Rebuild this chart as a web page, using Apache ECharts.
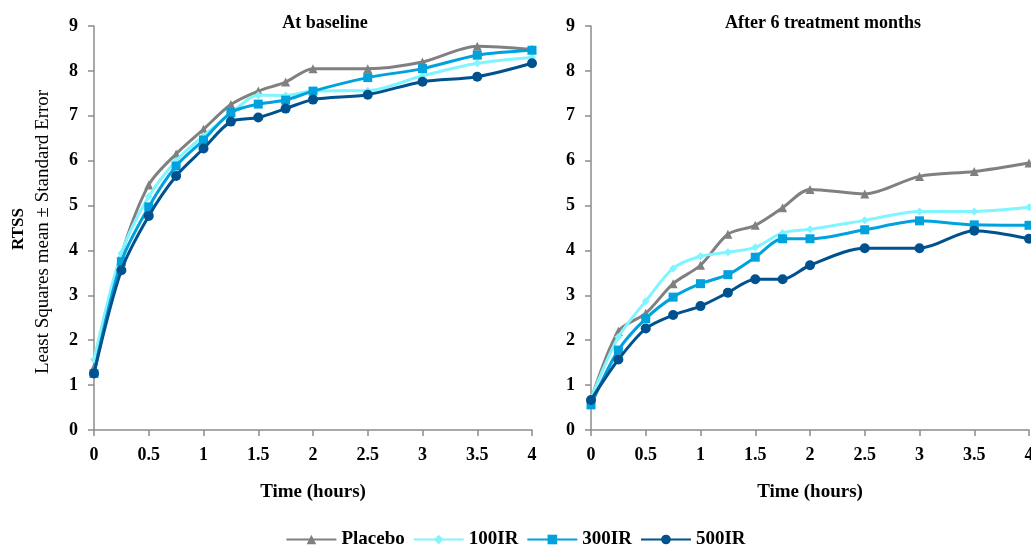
<!DOCTYPE html>
<html>
<head>
<meta charset="utf-8">
<script src="https://cdn.jsdelivr.net/npm/echarts@6/dist/echarts.min.js"></script>
<style>html,body{margin:0;padding:0;background:#fff}#c{width:1031px;height:550px}</style>
</head>
<body>
<div id="c"></div>
<script>
var times = [0, 0.25, 0.5, 0.75, 1, 1.25, 1.5, 1.75, 2, 2.5, 3, 3.5, 4];
var seriesNames = ['Placebo', '100IR', '300IR', '500IR'];
var panelTitles = ['At baseline', 'After 6 treatment months'];

var basePlacebo = [1.4, 3.9, 5.46, 6.15, 6.7, 7.25, 7.55, 7.75, 8.05, 8.05, 8.2, 8.55, 8.48];
var base100IR   = [1.57, 3.94, 5.2, 6.0, 6.55, 7.05, 7.46, 7.45, 7.55, 7.56, 7.89, 8.17, 8.3];
var base300IR   = [1.26, 3.75, 4.97, 5.88, 6.46, 7.07, 7.26, 7.35, 7.55, 7.85, 8.05, 8.35, 8.46];
var base500IR   = [1.26, 3.56, 4.77, 5.66, 6.27, 6.87, 6.96, 7.16, 7.36, 7.47, 7.76, 7.87, 8.17];

var m6Placebo = [0.67, 2.2, 2.6, 3.26, 3.67, 4.36, 4.56, 4.95, 5.36, 5.26, 5.65, 5.76, 5.95];
var m6100IR   = [0.7, 2.07, 2.87, 3.6, 3.87, 3.96, 4.07, 4.39, 4.47, 4.67, 4.87, 4.87, 4.96];
var m6300IR   = [0.56, 1.78, 2.48, 2.96, 3.26, 3.46, 3.85, 4.26, 4.26, 4.46, 4.66, 4.57, 4.56];
var m6500IR   = [0.67, 1.57, 2.26, 2.56, 2.76, 3.06, 3.36, 3.36, 3.67, 4.05, 4.05, 4.44, 4.26];

var colors = ['#808080', '#80F4FF', '#00A2DE', '#00528F'];
var symbols = ['triangle', 'diamond', 'rect', 'circle'];
var symbolSizes = [9, 8, 9, 10];

function pairs(vals) { return times.map(function (t, i) { return [t, vals[i]]; }); }

var panels = [
  [basePlacebo, base100IR, base300IR, base500IR],
  [m6Placebo, m6100IR, m6300IR, m6500IR]
];

var font = '"Liberation Serif", "Times New Roman", serif';
var axisColor = '#8c8c8c';

var grids = [
  { left: 94, top: 26, width: 438, height: 404, outerBoundsMode: 'none', containLabel: false },
  { left: 591, top: 26, width: 438, height: 404, outerBoundsMode: 'none', containLabel: false }
];

var xAxes = [0, 1].map(function (i) {
  return {
    type: 'value', gridIndex: i, min: 0, max: 4, interval: 0.5,
    name: 'Time (hours)', nameLocation: 'middle', nameGap: 53,
    nameTextStyle: { fontFamily: font, fontWeight: 'bold', fontSize: 19, color: '#000' },
    axisLine: { lineStyle: { color: axisColor, width: 1.5 } },
    axisTick: { show: true, length: 6, lineStyle: { color: axisColor, width: 1.5 } },
    axisLabel: { fontFamily: font, fontWeight: 'bold', fontSize: 18, color: '#000', margin: 16, showMaxLabel: true },
    splitLine: { show: false }
  };
});

var yAxes = [0, 1].map(function (i) {
  return {
    type: 'value', gridIndex: i, min: 0, max: 9, interval: 1,
    axisLine: { show: true, lineStyle: { color: axisColor, width: 1.5 } },
    axisTick: { show: true, length: 6, lineStyle: { color: axisColor, width: 1.5 } },
    axisLabel: { fontFamily: font, fontWeight: 'bold', fontSize: 18, color: '#000', margin: 16 },
    splitLine: { show: false }
  };
});

var series = [];
panels.forEach(function (panel, p) {
  panel.forEach(function (vals, s) {
    series.push({
      name: seriesNames[s], type: 'line', xAxisIndex: p, yAxisIndex: p,
      data: pairs(vals), smooth: 0.3,
      symbol: symbols[s], symbolSize: symbolSizes[s],
      lineStyle: { color: colors[s], width: 3 },
      itemStyle: { color: colors[s] },
      z: 2 + s
    });
  });
});

var chart = echarts.init(document.getElementById('c'));
chart.setOption({
  animation: false,
  backgroundColor: '#fff',
  grid: grids,
  xAxis: xAxes,
  yAxis: yAxes,
  series: series,
  title: [
    { text: panelTitles[0], left: 320, top: 9, textAlign: 'center',
      textStyle: { fontFamily: font, fontWeight: 'bold', fontSize: 18, color: '#000' } },
    { text: panelTitles[1], left: 818, top: 9, textAlign: 'center',
      textStyle: { fontFamily: font, fontWeight: 'bold', fontSize: 18, color: '#000' } }
  ],
  legend: {
    data: seriesNames, top: 530, left: 'center', itemWidth: 50, itemHeight: 12, itemGap: 8,
    padding: [0, 5, 0, 5],
    textStyle: { fontFamily: font, fontWeight: 'bold', fontSize: 19, color: '#000' }
  },
  graphic: [
    { type: 'text', x: 19, y: 229, rotation: Math.PI / 2,
      style: { text: 'RTSS', fontFamily: font, fontWeight: 'bold', fontSize: 17, fill: '#000', align: 'center', verticalAlign: 'middle' } },
    { type: 'text', x: 43, y: 232, rotation: Math.PI / 2,
      style: { text: 'Least Squares mean \u00b1 Standard Error', fontFamily: font, fontSize: 19, fill: '#000', align: 'center', verticalAlign: 'middle' } }
  ]
});
</script>
</body>
</html>
